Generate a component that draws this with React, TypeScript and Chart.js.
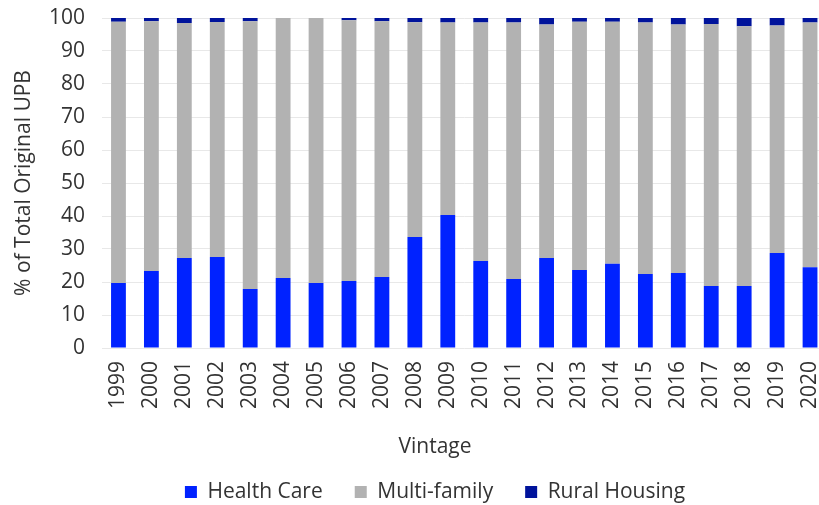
import React, { useEffect, useRef } from "react";
import { Chart, registerables } from "chart.js";

Chart.register(...registerables);

const vintages = ["1999", "2000", "2001", "2002", "2003", "2004", "2005", "2006", "2007", "2008", "2009", "2010", "2011", "2012", "2013", "2014", "2015", "2016", "2017", "2018", "2019", "2020"];
const healthCare = [19.7, 23.3, 27.3, 27.6, 17.9, 21.2, 19.7, 20.3, 21.5, 33.6, 40.3, 26.4, 20.9, 27.3, 23.6, 25.5, 22.4, 22.7, 18.8, 18.8, 28.8, 24.5];
const multiFamily = [79.2, 75.7, 71.2, 71.2, 81.1, 78.8, 80.3, 79.0, 77.5, 65.1, 58.3, 72.2, 77.7, 70.7, 75.3, 73.4, 76.2, 75.3, 79.4, 78.7, 68.9, 74.1];
const ruralHousing = [1.1, 1.0, 1.5, 1.2, 1.0, 0, 0, 0.7, 1.0, 1.3, 1.4, 1.4, 1.4, 2.0, 1.1, 1.1, 1.4, 2.0, 1.8, 2.5, 2.3, 1.4];
const seriesNames = ["Health Care", "Multi-family", "Rural Housing"];
const seriesColors = ["#0022FF", "#B2B2B2", "#00139B"];
const yAxisTitle = "% of Total Original UPB";
const xAxisTitle = "Vintage";

const FONT = "'Open Sans', sans-serif";
const SIZE = 21;
const TEXT = "#333333";

export default function App() {
  const ref = useRef<HTMLCanvasElement | null>(null);

  useEffect(() => {
    if (!ref.current) return;
    const values = [healthCare, multiFamily, ruralHousing];
    const chart = new Chart(ref.current, {
      type: "bar",
      data: {
        labels: vintages,
        datasets: values.map((v, i) => ({
          label: seriesNames[i],
          data: v,
          backgroundColor: seriesColors[i],
          borderWidth: 0,
          barPercentage: 0.45,
          categoryPercentage: 1,
        })),
      },
      options: {
        responsive: false,
        animation: false,
        devicePixelRatio: 1,
        layout: { padding: { left: 43.5, right: 3.5, top: 18, bottom: 2.5 } },
        font: { family: FONT, size: SIZE },
        color: TEXT,
        plugins: {
          tooltip: { enabled: false },
          legend: {
            position: "bottom",
            labels: {
              boxWidth: 12,
              boxHeight: 12,
              padding: 32,
              color: TEXT,
              font: { family: FONT, size: SIZE },
            },
          },
          title: {
            display: true,
            text: xAxisTitle,
            position: "bottom",
            weight: 500,
            color: TEXT,
            font: { family: FONT, size: SIZE, weight: "normal" },
            padding: { top: 6.4, bottom: -10.1 },
          },
        },
        scales: {
          x: {
            stacked: true,
            grid: { display: false, drawTicks: false },
            border: { display: false },
            ticks: {
              minRotation: 90,
              maxRotation: 90,
              autoSkip: false,
              padding: 13,
              color: TEXT,
              font: { family: FONT, size: SIZE },
            },
            afterFit: (scale: any) => {
              scale.height = 80;
              scale.paddingLeft = 0;
              scale.paddingRight = 0;
            },
          },
          y: {
            stacked: true,
            min: 0,
            max: 100,
            border: { display: false },
            grid: { color: "#E8E8E8", drawTicks: false, lineWidth: 1 },
            ticks: {
              stepSize: 10,
              padding: 17,
              color: TEXT,
              font: { family: FONT, size: SIZE },
            },
            title: {
              display: true,
              text: yAxisTitle,
              color: TEXT,
              font: { family: FONT, size: SIZE },
              padding: { top: -32.5, bottom: 0 },
            },
            afterFit: (scale: any) => {
              scale.width = 58.5;
              scale.paddingTop = 0;
              scale.paddingBottom = 0;
            },
          },
        },
      },
    });
    return () => chart.destroy();
  }, []);

  return (
    <div style={{ position: "absolute", left: 0, top: 0, width: 819, height: 505, overflow: "hidden", background: "#fff" }}>
      <canvas ref={ref} width={830} height={515} style={{ width: 830, height: 515, display: "block" }} />
    </div>
  );
}
